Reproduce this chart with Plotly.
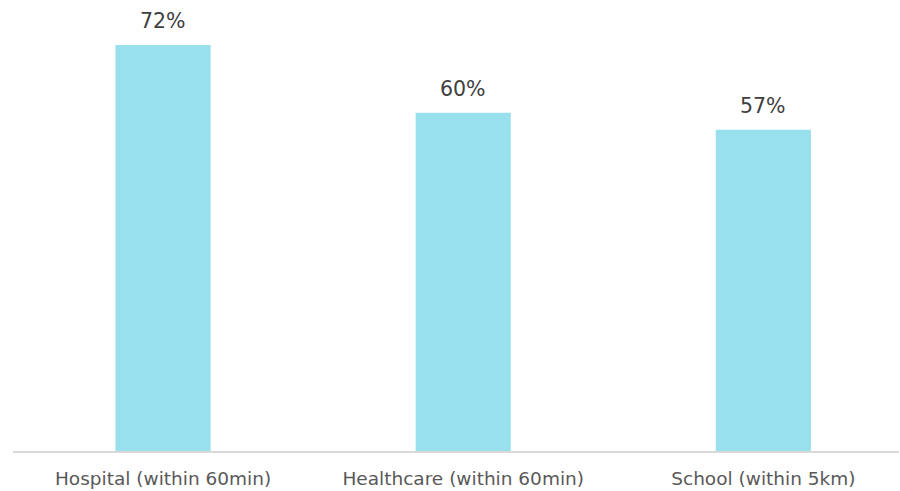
import plotly.graph_objects as go

categories = ["Hospital (within 60min)", "Healthcare (within 60min)", "School (within 5km)"]
values = [72, 60, 57]
labels = ["72%", "60%", "57%"]

x_pos = list(range(len(categories)))

fig = go.Figure(go.Bar(
    x=x_pos, y=values, width=0.317,
    marker=dict(color="#99E0EE", line=dict(width=0)),
))
for xi, v, lab in zip(x_pos, values, labels):
    fig.add_annotation(x=xi, y=v, text=lab, showarrow=False,
                       yanchor="bottom", yshift=10,
                       font=dict(size=20.5, color="#404040", family="DejaVu Sans"))
fig.update_layout(
    width=900, height=491,
    margin=dict(l=13, r=1, t=0, b=40),
    plot_bgcolor="white", paper_bgcolor="white",
    showlegend=False,
    xaxis=dict(range=[-0.5, 2.452], tickvals=x_pos, ticktext=categories,
               showline=True, linecolor="#D9D9D9", linewidth=1.5,
               showgrid=False, zeroline=False, ticks="",
               ticklabelstandoff=10,
               tickfont=dict(size=18.5, color="#595959", family="DejaVu Sans")),
    yaxis=dict(range=[0, 80], visible=False, showgrid=False, zeroline=False),
)
fig.write_html("out.html")
